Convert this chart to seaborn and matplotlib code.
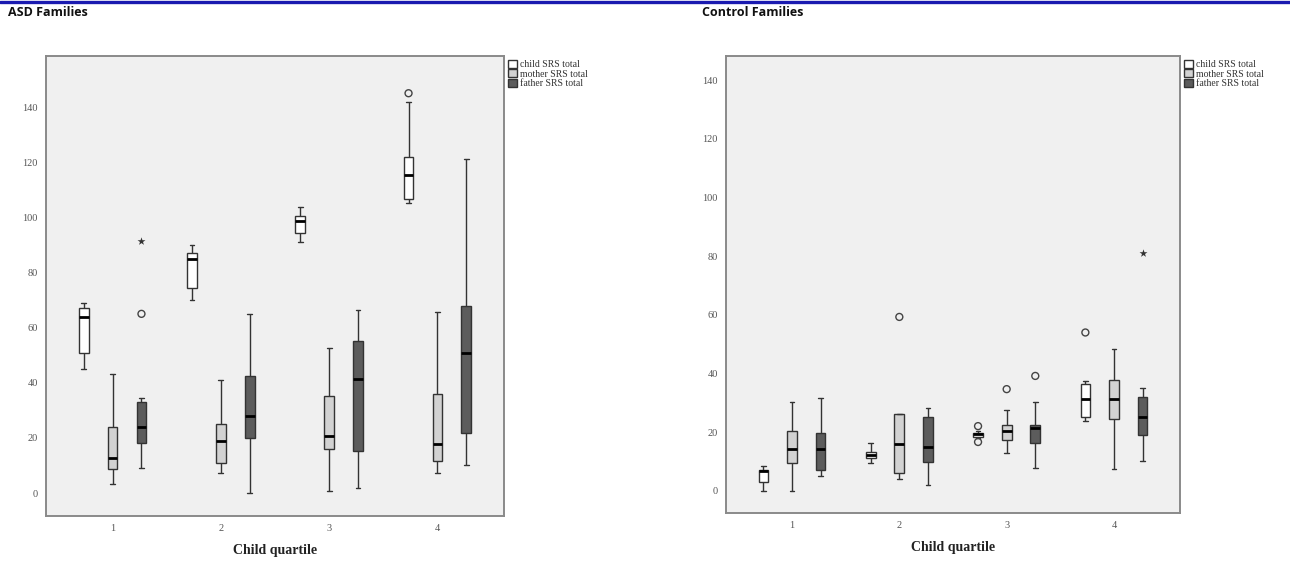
import numpy as np
import pandas as pd
import seaborn as sns
import matplotlib.pyplot as plt
from matplotlib.lines import Line2D

# categories
quartiles = ["1", "2", "3", "4"]
members = ["child SRS total", "mother SRS total", "father SRS total"]

# five-number summaries per quartile: [low whisker, q1, median, q3, high whisker]
asd_child = [[45, 50.8, 63.8, 67.1, 68.9], [70, 74.4, 84.9, 87, 90],
             [91, 94.3, 98.7, 100.5, 103.7], [105.2, 106.6, 115.3, 121.9, 141.8]]
asd_mother = [[3.3, 8.7, 12.7, 23.9, 43.2], [7.2, 10.9, 18.9, 25, 41],
              [0.7, 16, 20.7, 35.2, 52.6], [7.2, 11.6, 17.8, 35.9, 65.7]]
asd_father = [[9, 18.1, 24, 33, 34.5], [0, 20, 27.9, 42.4, 65],
              [1.8, 15.2, 41.3, 55.1, 66.4], [10.2, 21.8, 50.7, 67.8, 121.1]]

ctl_child = [[0, 3.1, 6.8, 7.2, 8.5], [9.5, 11.2, 12.3, 13.3, 16.3],
             [18.1, 18.4, 19.4, 19.8, 20.4], [23.8, 25.2, 31.3, 36.4, 37.5]]
ctl_mother = [[0, 9.5, 14.3, 20.4, 30.3], [4.1, 6.1, 16, 26.2, 26.2],
              [12.9, 17.4, 20.4, 22.5, 27.6], [7.5, 24.5, 31.3, 37.8, 48.4]]
ctl_father = [[5.1, 7.2, 14.3, 19.8, 31.7], [2, 9.9, 15, 25.2, 28.3],
              [7.8, 16.3, 21.5, 22.5, 30.3], [10.2, 19.1, 25.2, 32, 35]]

# outliers: (quartile, member, value)
asd_circles = [("1", "father SRS total", 65), ("4", "child SRS total", 145)]
asd_stars = [("1", "father SRS total", 91.4)]
ctl_circles = [("2", "mother SRS total", 59.3), ("3", "child SRS total", 22.1),
               ("3", "child SRS total", 16.7), ("3", "mother SRS total", 34.7),
               ("3", "father SRS total", 39.2), ("4", "child SRS total", 54)]
ctl_stars = [("4", "father SRS total", 81)]

palette = {"child SRS total": "#ffffff", "mother SRS total": "#d2d2d2",
           "father SRS total": "#5c5c5c"}
serif = "Liberation Serif"


def long_form(child, mother, father):
    rows = []
    for name, series in zip(members, [child, mother, father]):
        for q, vals in zip(quartiles, series):
            for v in vals:
                rows.append((q, name, v))
    return pd.DataFrame(rows, columns=["quartile", "member", "value"])


def draw_panel(ax, df, circles, stars, ylim):
    ax.set_facecolor("#f0f0f0")
    sns.boxplot(data=df, x="quartile", y="value", hue="member", order=quartiles,
                hue_order=members, palette=palette, whis=(0, 100), gap=0.66,
                linecolor="#333333", linewidth=1.0,
                medianprops={"color": "black", "linewidth": 2}, ax=ax)
    n = len(ax.collections)
    cdf = pd.DataFrame(circles, columns=["quartile", "member", "value"])
    sns.stripplot(data=cdf, x="quartile", y="value", hue="member", order=quartiles,
                  hue_order=members, dodge=True, jitter=False, size=5, marker="o",
                  palette={m: "#444444" for m in members}, legend=False, ax=ax)
    for coll in ax.collections[n:]:
        coll.set_facecolor("none")
        coll.set_edgecolor("#444444")
        coll.set_linewidth(1.0)
    sdf = pd.DataFrame(stars, columns=["quartile", "member", "value"])
    sns.stripplot(data=sdf, x="quartile", y="value", hue="member", order=quartiles,
                  hue_order=members, dodge=True, jitter=False, size=6, marker="*",
                  palette={m: "#333333" for m in members}, legend=False, ax=ax)
    ax.set_xlim(-0.615, 3.615)
    ax.set_ylim(*ylim)
    ax.set_yticks([0, 20, 40, 60, 80, 100, 120, 140])
    ax.set_xlabel("Child quartile", fontfamily=serif, fontweight="bold",
                  fontsize=10, color="#222222", labelpad=8)
    ax.set_ylabel("")
    for s in ax.spines.values():
        s.set_color("#8a8a8a")
        s.set_linewidth(1.4)
        s.set_visible(True)
    ax.tick_params(axis="both", colors="#666666", labelcolor="#555555",
                   length=5, width=1, labelsize=7.5, pad=1)
    for lab in ax.get_xticklabels() + ax.get_yticklabels():
        lab.set_fontfamily(serif)
    sns.move_legend(ax, "upper left", bbox_to_anchor=(1.0, 1.0), title=None,
                    frameon=False, fontsize=7, handlelength=0.9, handleheight=0.9,
                    labelspacing=0.0, handletextpad=0.3, borderaxespad=0.3,
                    borderpad=0.1)
    for t in ax.get_legend().get_texts():
        t.set_fontfamily(serif)
        t.set_color("#333333")


sns.set_theme(style="white")
plt.rcParams["font.family"] = ["Liberation Serif", "DejaVu Sans"]

fig = plt.figure(figsize=(12.9, 5.62), dpi=100)
ax1 = fig.add_axes([46 / 1290, 1 - 516 / 562, 458 / 1290, 460 / 562])
ax2 = fig.add_axes([726 / 1290, 1 - 513 / 562, 454 / 1290, 457 / 562])

draw_panel(ax1, long_form(asd_child, asd_mother, asd_father), asd_circles,
           asd_stars, (-8.3, 158.5))
draw_panel(ax2, long_form(ctl_child, ctl_mother, ctl_father), ctl_circles,
           ctl_stars, (-7.5, 148.2))

fig.add_artist(Line2D([0, 1], [1 - 2 / 562, 1 - 2 / 562], transform=fig.transFigure,
                      color="#1a1ab0", linewidth=2.4))
fig.text(8 / 1290, 1 - 13 / 562, "ASD Families", fontfamily="Open Sans",
         fontweight="bold", fontsize=9, va="center", ha="left", color="#111111")
fig.text(702 / 1290, 1 - 13 / 562, "Control Families", fontfamily="Open Sans",
         fontweight="bold", fontsize=9, va="center", ha="left", color="#111111")

fig.savefig("out.png", dpi=100, facecolor="white")
